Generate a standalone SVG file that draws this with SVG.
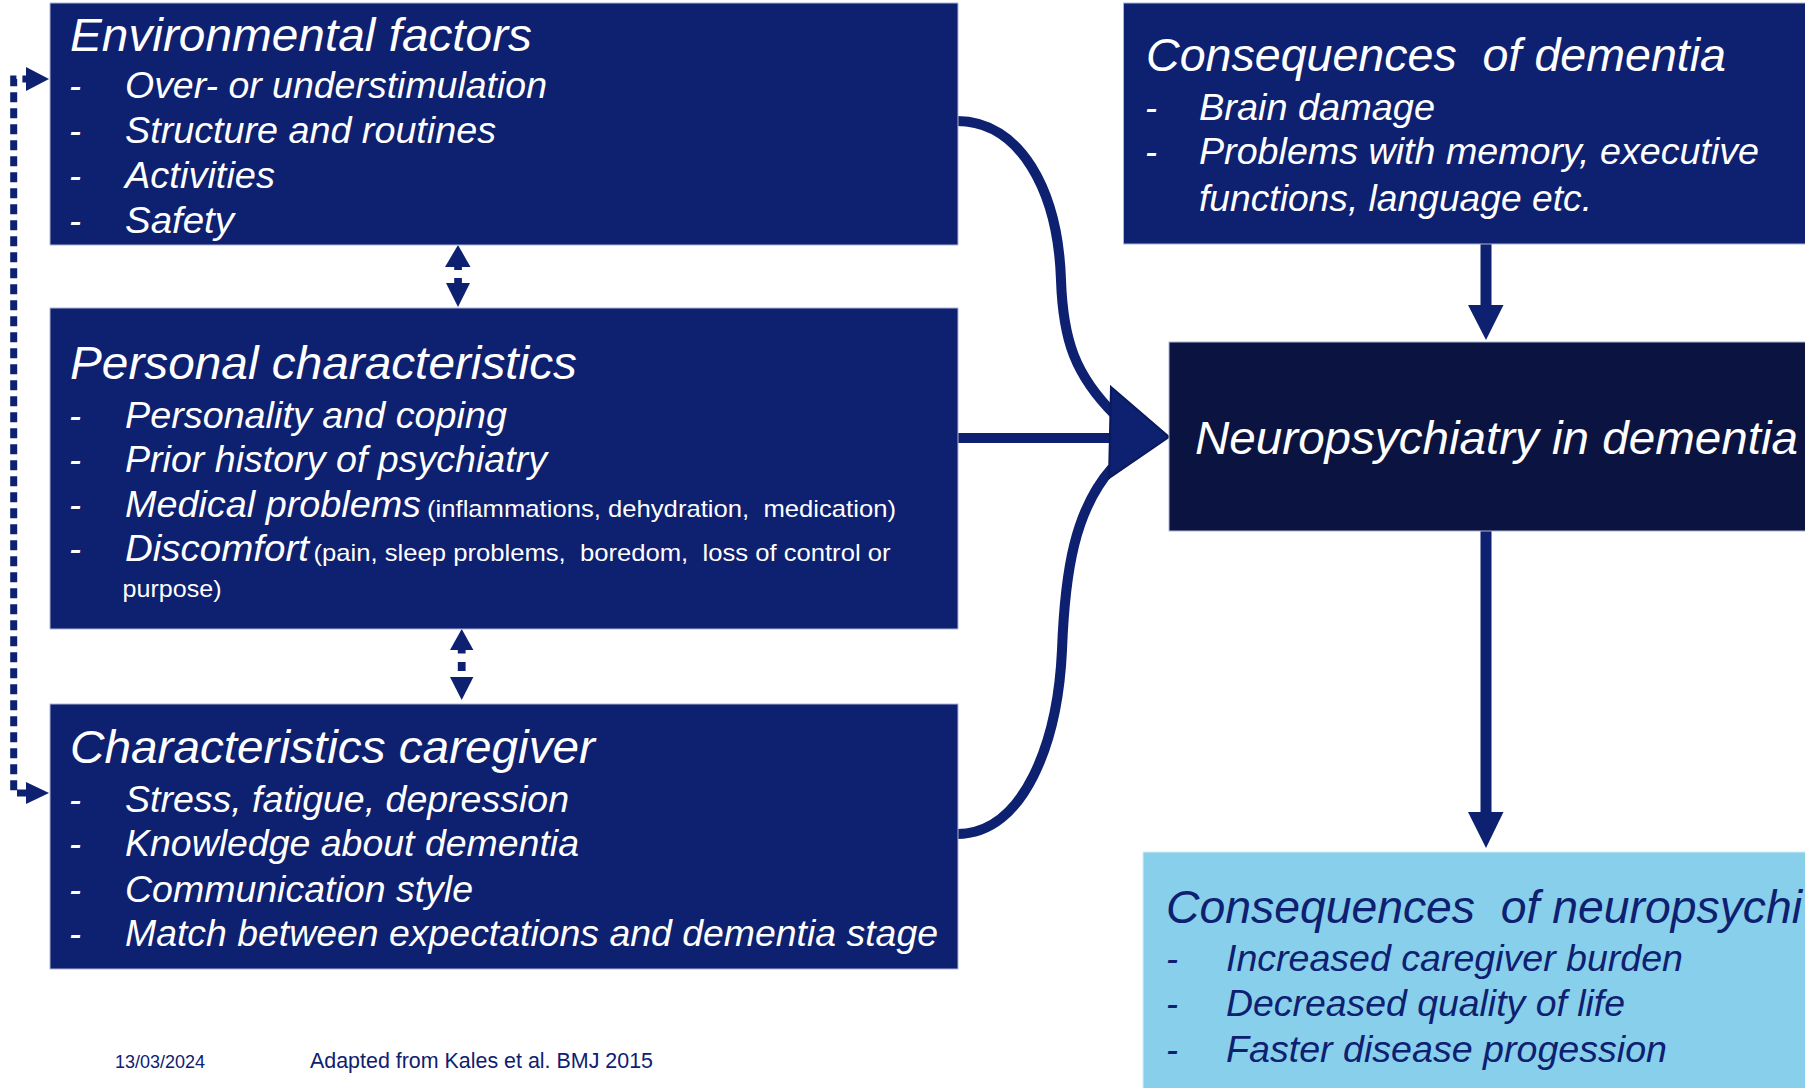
<svg xmlns="http://www.w3.org/2000/svg" width="1805" height="1088" viewBox="0 0 1805 1088">
<style>
.box{fill:#0e2070;stroke:#aeb6d6;stroke-width:1}
.dark{fill:#0b1441;stroke:#aeb6d6;stroke-width:1}
.light{fill:#87cfeb;stroke:#d8eef8;stroke-width:1}
text{font-family:"Liberation Sans",Arial,sans-serif;font-style:italic;white-space:pre}
.t{fill:#ffffff;font-size:46px}
.i{fill:#ffffff;font-size:36px}
.s{fill:#ffffff;font-size:24px;font-style:normal}
.tn{fill:#0e2070;font-size:46px}
.in{fill:#0e2070;font-size:36px}
.f{fill:#0e2070;font-style:normal}
.ln{fill:none;stroke:#0e2070;stroke-width:10}
.hd{fill:#0e2070}
.dot{fill:none;stroke:#0e2070;stroke-width:7;stroke-dasharray:10 6}
</style>
<rect width="1805" height="1088" fill="#ffffff"/>
<g id="connectors">
  <path class="ln" d="M957,121 C1020,121 1058,190 1061,280 C1063,340 1075,375 1115,415"/>
  <path class="ln" d="M957,834 C1025,834 1058,740 1062,650 C1065,570 1075,510 1112,468"/>
  <line class="ln" x1="957" y1="438" x2="1115" y2="438"/>
  <polygon class="hd" points="1111,387 1169,437 1109,478" stroke="#0a1a5c" stroke-width="2"/>
  <rect class="hd" x="1480.5" y="244" width="11" height="62"/>
  <polygon class="hd" points="1468,305 1503.5,305 1486,340"/>
  <rect class="hd" x="1480.5" y="530" width="11" height="283"/>
  <polygon class="hd" points="1468,812 1503.5,812 1486,848"/>
  <polygon class="hd" points="445,267 470.5,267 458,245"/>
  <rect class="hd" x="454.2" y="266" width="7.7" height="4"/>
  <rect class="hd" x="454.2" y="278" width="7.7" height="6"/>
  <polygon class="hd" points="446,283 470,283 458,307"/>
  <polygon class="hd" points="450,650 473.4,650 461.7,629"/>
  <rect class="hd" x="457.8" y="649" width="7.8" height="4.5"/>
  <rect class="hd" x="457.8" y="662" width="7.8" height="9"/>
  <polygon class="hd" points="450,677 473.4,677 461.7,700"/>
  <path class="dot" d="M27,793 L13.7,793 L13.7,79 L27,79"/>
  <polygon class="hd" points="26,67 49,79 26,91"/>
  <polygon class="hd" points="26,782 49,793 26,804"/>
</g>
<g id="env">
  <rect class="box" x="50" y="3" width="908" height="242"/>
  <text class="t" x="70" y="51" textLength="462" lengthAdjust="spacingAndGlyphs">Environmental factors</text>
  <text class="i" x="69" y="98">-</text><text class="i" x="125" y="98" textLength="422" lengthAdjust="spacingAndGlyphs">Over- or understimulation</text>
  <text class="i" x="69" y="143">-</text><text class="i" x="125" y="143" textLength="371" lengthAdjust="spacingAndGlyphs">Structure and routines</text>
  <text class="i" x="69" y="188">-</text><text class="i" x="125" y="188" textLength="150" lengthAdjust="spacingAndGlyphs">Activities</text>
  <text class="i" x="69" y="233">-</text><text class="i" x="125" y="233" textLength="109" lengthAdjust="spacingAndGlyphs">Safety</text>
</g>
<g id="personal">
  <rect class="box" x="50" y="308" width="908" height="321"/>
  <text class="t" x="70" y="379" textLength="507" lengthAdjust="spacingAndGlyphs">Personal characteristics</text>
  <text class="i" x="69" y="428">-</text><text class="i" x="125" y="428" textLength="382" lengthAdjust="spacingAndGlyphs">Personality and coping</text>
  <text class="i" x="69" y="472">-</text><text class="i" x="125" y="472" textLength="422" lengthAdjust="spacingAndGlyphs">Prior history of psychiatry</text>
  <text class="i" x="69" y="517">-</text><text class="i" x="125" y="517" textLength="296" lengthAdjust="spacingAndGlyphs">Medical problems</text>
  <text class="s" x="427" y="517" textLength="469" lengthAdjust="spacingAndGlyphs">(inflammations, dehydration,  medication)</text>
  <text class="i" x="69" y="561">-</text><text class="i" x="125" y="561" textLength="184" lengthAdjust="spacingAndGlyphs">Discomfort</text>
  <text class="s" x="313.5" y="561" textLength="577" lengthAdjust="spacingAndGlyphs">(pain, sleep problems,  boredom,  loss of control or</text>
  <text class="s" x="122.5" y="597" textLength="99" lengthAdjust="spacingAndGlyphs">purpose)</text>
</g>
<g id="caregiver">
  <rect class="box" x="50" y="704" width="908" height="265"/>
  <text class="t" x="70" y="763" textLength="525" lengthAdjust="spacingAndGlyphs">Characteristics caregiver</text>
  <text class="i" x="69" y="812">-</text><text class="i" x="125" y="812" textLength="444" lengthAdjust="spacingAndGlyphs">Stress, fatigue, depression</text>
  <text class="i" x="69" y="856">-</text><text class="i" x="125" y="856" textLength="454" lengthAdjust="spacingAndGlyphs">Knowledge about dementia</text>
  <text class="i" x="69" y="902">-</text><text class="i" x="125" y="902" textLength="348" lengthAdjust="spacingAndGlyphs">Communication style</text>
  <text class="i" x="69" y="946">-</text><text class="i" x="125" y="946" textLength="813" lengthAdjust="spacingAndGlyphs">Match between expectations and dementia stage</text>
</g>
<g id="cons-dementia">
  <rect class="box" x="1123.5" y="3" width="700" height="241"/>
  <text class="t" x="1146" y="71" textLength="580" lengthAdjust="spacingAndGlyphs">Consequences  of dementia</text>
  <text class="i" x="1145" y="120">-</text><text class="i" x="1199" y="120" textLength="236" lengthAdjust="spacingAndGlyphs">Brain damage</text>
  <text class="i" x="1145" y="164">-</text><text class="i" x="1199" y="164" textLength="560" lengthAdjust="spacingAndGlyphs">Problems with memory, executive</text>
  <text class="i" x="1199" y="211" textLength="393" lengthAdjust="spacingAndGlyphs">functions, language etc.</text>
</g>
<g id="neuropsychiatry">
  <rect class="dark" x="1169" y="342" width="650" height="189"/>
  <text class="t" x="1195" y="454" textLength="603" lengthAdjust="spacingAndGlyphs">Neuropsychiatry in dementia</text>
</g>
<g id="cons-neuropsychiatry">
  <rect class="light" x="1143" y="852" width="700" height="250"/>
  <text class="tn" x="1166" y="923" textLength="636" lengthAdjust="spacingAndGlyphs">Consequences  of neuropsychi</text>
  <text class="in" x="1166" y="971">-</text><text class="in" x="1226" y="971" textLength="457" lengthAdjust="spacingAndGlyphs">Increased caregiver burden</text>
  <text class="in" x="1166" y="1016">-</text><text class="in" x="1226" y="1016" textLength="399" lengthAdjust="spacingAndGlyphs">Decreased quality of life</text>
  <text class="in" x="1166" y="1062">-</text><text class="in" x="1226" y="1062" textLength="441" lengthAdjust="spacingAndGlyphs">Faster disease progession</text>
</g>
<g id="footer">
  <text class="f" x="115" y="1068" font-size="18" textLength="90" lengthAdjust="spacingAndGlyphs">13/03/2024</text>
  <text class="f" x="310" y="1068" font-size="22" textLength="343" lengthAdjust="spacingAndGlyphs">Adapted from Kales et al. BMJ 2015</text>
</g>
</svg>
